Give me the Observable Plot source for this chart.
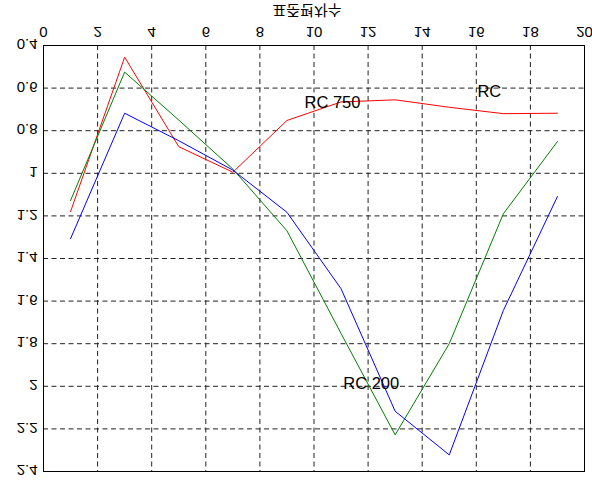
<!DOCTYPE html>
<html>
<head>
<meta charset="utf-8">
<script src="https://cdn.jsdelivr.net/npm/d3@7"></script>
<script src="https://cdn.jsdelivr.net/npm/@observablehq/plot@0.6"></script>
<style>
  html, body { margin: 0; padding: 0; background: #fff; }
</style>
</head>
<body>
<script>
const titleText = "표준편차수";
const xTicks = [0, 2, 4, 6, 8, 10, 12, 14, 16, 18, 20];
const yTicks = [0.4, 0.6, 0.8, 1, 1.2, 1.4, 1.6, 1.8, 2, 2.2, 2.4];
const xValues = [1, 3, 5, 7, 9, 11, 13, 15, 17, 19];
const red = [1.18, 0.455, 0.875, 0.995, 0.752, 0.665, 0.655, 0.69, 0.72, 0.718];
const green = [1.128, 0.525, 0.75, 0.98, 1.27, 1.752, 2.228, 1.80, 1.19, 0.851];
const blue = [1.307, 0.718, 0.847, 0.985, 1.183, 1.542, 2.117, 2.322, 1.644, 1.109];
const labelText = ["RC 750", "RC", "RC 200"];
const labelX = [9.65, 16.04, 11.08];
const labelY = [0.668, 0.616, 1.989];

const series = [
  {name: "red", color: "#ff0000", values: red},
  {name: "green", color: "#008000", values: green},
  {name: "blue", color: "#0000ff", values: blue}
];
const rows = series.flatMap(s => s.values.map((v, i) => ({series: s.name, x: xValues[i], y: v})));
const labels = labelText.map((t, i) => ({t, x: labelX[i], y: labelY[i]}));

const chart = Plot.plot({
  width: 592,
  height: 481,
  marginLeft: 43,
  marginRight: 8,
  marginTop: 45,
  marginBottom: 10,
  style: {fontFamily: "'Liberation Sans', Arial, sans-serif", fontSize: "15px", background: "#fff", color: "#000"},
  x: {domain: [0, 20], axis: null},
  y: {domain: [0.4, 2.4], reverse: true, axis: null},
  marks: [
    Plot.gridX(xTicks.slice(1, -1), {stroke: "#222", strokeOpacity: 1, strokeDasharray: "5,3.5"}),
    Plot.gridY(yTicks.slice(1, -1), {stroke: "#222", strokeOpacity: 1, strokeDasharray: "5,3.5"}),
    Plot.line(rows.filter(d => d.series === "red"), {x: "x", y: "y", stroke: "#ff0000", strokeWidth: 1}),
    Plot.line(rows.filter(d => d.series === "green"), {x: "x", y: "y", stroke: "#008000", strokeWidth: 1}),
    Plot.line(rows.filter(d => d.series === "blue"), {x: "x", y: "y", stroke: "#0000ff", strokeWidth: 1}),
    Plot.frame({stroke: "#000", strokeWidth: 1}),
    Plot.text(labels, {x: "x", y: "y", text: "t", textAnchor: "start", lineAnchor: "middle", fontSize: 16.5, fill: "#000"}),
    Plot.text(xTicks, {x: d => d, y: () => 0.4, text: d => String(d), dy: -12, lineAnchor: "middle", fontSize: 15, fill: "#000"}),
    Plot.text(yTicks, {x: () => 0, y: d => d, text: d => String(d), dx: -6, textAnchor: "end", lineAnchor: "middle", fontSize: 15, fill: "#000"}),
    Plot.text([titleText], {frameAnchor: "top", text: d => d, dx: -7, dy: -32, lineAnchor: "middle", fontSize: 15, fontFamily: "'Noto Sans CJK KR', sans-serif", fill: "#000"})
  ]
});
document.body.appendChild(chart);
const root = chart.tagName.toLowerCase() === "svg" ? chart : chart.querySelector("svg");
root.querySelectorAll("text").forEach(el => {
  if (labelText.includes(el.textContent)) return;
  const b = el.getBBox();
  const cy = b.y + b.height / 2;
  const t = el.getAttribute("transform") || "";
  el.setAttribute("transform", `${t} translate(0,${2 * cy}) scale(1,-1)`);
});
</script>
</body>
</html>
